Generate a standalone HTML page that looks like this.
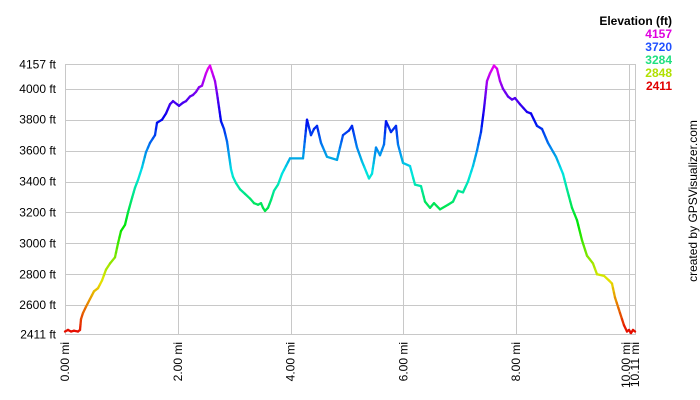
<!DOCTYPE html><html><head><style>body{margin:0;background:#fff}svg{display:block;font-family:"Liberation Sans",Arial,sans-serif}</style></head><body>
<svg id="s" width="700" height="400" xmlns="http://www.w3.org/2000/svg">
<rect width="700" height="400" fill="#fff"/>
<g id="grid" stroke="#c8c8c8" stroke-width="1" fill="none"></g>
<g id="lab" font-size="12" fill="#000"></g>
<g id="line" stroke-width="2.3" stroke-linecap="round"></g>
<g font-size="12" text-anchor="end" font-weight="bold">
<text x="672" y="25">Elevation (ft)</text>
<text x="672" y="38" fill="#e000e0">4157</text>
<text x="672" y="51" fill="#2050ff">3720</text>
<text x="672" y="64" fill="#20e080">3284</text>
<text x="672" y="77" fill="#b0e000">2848</text>
<text x="672" y="90" fill="#e00000">2411</text>
</g>
<text transform="translate(697,201) rotate(-90)" font-size="12" text-anchor="middle">created by GPSVisualizer.com</text>
</svg>
<script>
var L=65,R=635,T=64.5,B=334.5,k=0.1546;
function Y(e){return T+(4157-e)*k}
function X(m){return L+m*56.38}
var ns="http://www.w3.org/2000/svg";
function el(p,t,a,txt){var n=document.createElementNS(ns,t);for(var i in a)n.setAttribute(i,a[i]);if(txt)n.textContent=txt;document.getElementById(p).appendChild(n);return n}
[4000,3800,3600,3400,3200,3000,2800,2600].forEach(function(e){var y=Math.round(Y(e))+.5;el("grid","line",{x1:L,x2:R,y1:y,y2:y})});
[0,2,4,6,8,10].forEach(function(m){var x=Math.round(X(m))+.5;el("grid","line",{x1:x,x2:x,y1:T,y2:B})});
el("grid","rect",{x:L+.5,y:T,width:R-L,height:B-T});
[4157,4000,3800,3600,3400,3200,3000,2800,2600,2411].forEach(function(e){el("lab","text",{x:56,y:Y(e)+4,"text-anchor":"end"},e+" ft")});
[[0,"0.00 mi"],[2,"2.00 mi"],[4,"4.00 mi"],[6,"6.00 mi"],[8,"8.00 mi"],[9.95,"10.00 mi"],[10.11,"10.11 mi"]].forEach(function(a){var x=X(a[0])+4;el("lab","text",{transform:"translate("+x+",342) rotate(-90)","text-anchor":"end"},a[1])});
var p=[[65,2430],[68,2440],[71,2430],[74,2435],[78,2430],[80,2440],[81,2510],[83,2550],[86,2590],[90,2640],[94,2690],[98,2710],[102,2760],[106,2830],[110,2870],[115,2910],[118,3000],[121,3080],[125,3120],[128,3200],[131,3270],[135,3360],[138,3410],[142,3490],[146,3590],[150,3650],[153,3680],[155,3700],[157,3780],[162,3800],[166,3840],[170,3900],[173,3920],[177,3900],[179,3890],[183,3910],[186,3920],[190,3950],[193,3960],[196,3980],[199,4010],[202,4020],[204,4060],[206,4100],[208,4130],[210,4150],[212,4110],[215,4050],[217,3970],[219,3880],[221,3790],[224,3740],[227,3660],[229,3570],[231,3480],[233,3430],[236,3390],[240,3350],[245,3320],[250,3290],[254,3260],[258,3250],[261,3260],[263,3230],[265,3210],[268,3230],[271,3280],[274,3340],[278,3380],[282,3450],[286,3500],[290,3550],[303,3550],[307,3800],[311,3700],[314,3740],[317,3760],[321,3650],[327,3560],[337,3540],[343,3700],[349,3730],[352,3760],[357,3620],[362,3530],[369,3420],[372,3450],[376,3620],[380,3570],[384,3640],[386,3790],[391,3720],[396,3760],[398,3640],[403,3520],[410,3500],[415,3380],[421,3370],[425,3270],[430,3230],[434,3260],[440,3220],[448,3250],[453,3270],[458,3340],[463,3330],[468,3400],[473,3500],[477,3600],[481,3720],[484,3870],[487,4050],[490,4100],[494,4150],[497,4130],[500,4050],[503,4000],[508,3950],[512,3930],[515,3940],[520,3900],[527,3850],[531,3840],[537,3760],[542,3740],[548,3650],[556,3560],[563,3450],[567,3350],[572,3230],[577,3150],[582,3020],[587,2920],[593,2870],[597,2800],[604,2790],[609,2760],[612,2740],[615,2650],[620,2550],[624,2470],[627,2430],[629,2440],[631,2420],[633,2440],[635,2430]];
function col(e){var h=300*(e-2411)/1746;return "hsl("+h+",100%,"+(h>200?47:45)+"%)"}
for(var i=0;i<p.length-1;i++){var a=p[i],b=p[i+1],n=Math.max(1,Math.ceil(Math.abs(b[1]-a[1])/40));for(var j=0;j<n;j++){var t0=j/n,t1=(j+1)/n,x0=a[0]+(b[0]-a[0])*t0,x1=a[0]+(b[0]-a[0])*t1,e0=a[1]+(b[1]-a[1])*t0,e1=a[1]+(b[1]-a[1])*t1;el("line","line",{x1:x0,y1:Y(e0),x2:x1,y2:Y(e1),stroke:col((e0+e1)/2)})}}
</script>
</body></html>
